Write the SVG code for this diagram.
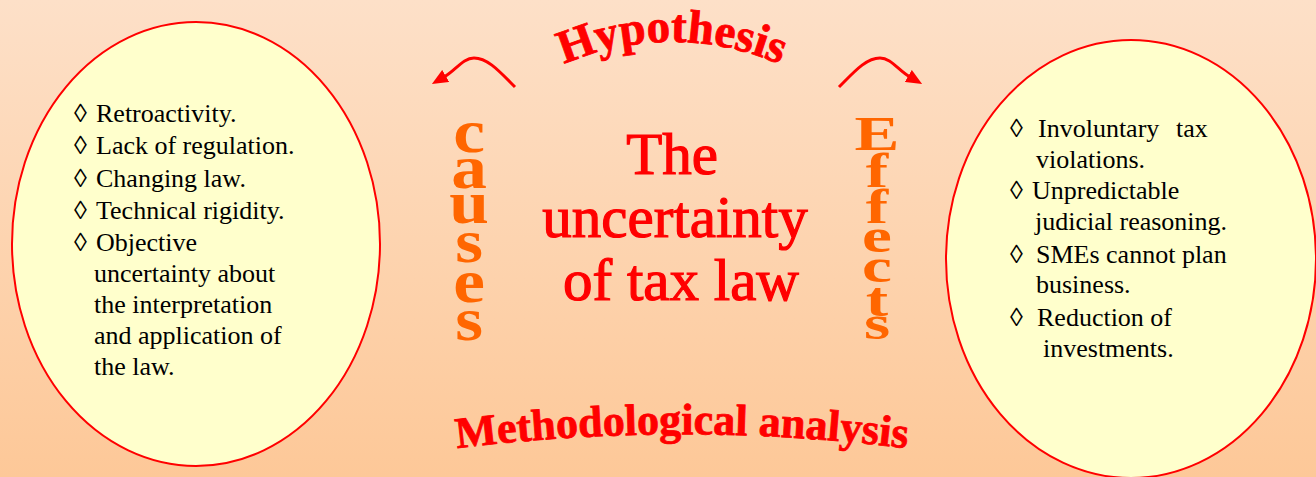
<svg xmlns="http://www.w3.org/2000/svg" width="1316" height="477" viewBox="0 0 1316 477">
<defs>
<linearGradient id="bg" x1="0" y1="0" x2="0" y2="1">
<stop offset="0" stop-color="#FDE0C8"/>
<stop offset="1" stop-color="#FDC898"/>
</linearGradient>
<marker id="ah" markerUnits="userSpaceOnUse" viewBox="0 0 16 14" markerWidth="16" markerHeight="14" refX="2" refY="7" orient="auto">
<path d="M0,0 L16,7 L0,14 z" fill="#FF0000"/>
</marker>
<path id="arcTop" d="M548,72 A270,270 0 0 1 796,72"/>
<path id="arcBot" d="M452,449 A1800,1800 0 0 1 912,449"/>
<style>
.ell{fill:#FFFFCC;stroke:#FF0000;stroke-width:2}
.item{font-family:"Liberation Serif","Times New Roman",serif;font-size:26px;fill:#000}
.title{font-family:"Liberation Serif","Times New Roman",serif;font-size:59px;fill:#FF0000;stroke:#FF0000;stroke-width:1.2px;text-anchor:middle}
.arc{font-family:"Liberation Serif","Times New Roman",serif;font-weight:bold;fill:#FF0000;stroke:#FF0000;stroke-width:0.8px;text-anchor:middle}
.vert{font-family:"Liberation Serif","Times New Roman",serif;font-weight:bold;fill:#FF6600;text-anchor:middle}
.conn{fill:none;stroke:#FF0000;stroke-width:3}
</style>
</defs>
<rect x="0" y="0" width="1316" height="477" fill="url(#bg)"/>

<g id="causes-node">
<ellipse class="ell" cx="196" cy="244" rx="184" ry="222"/>
<text class="item">
<tspan x="74" y="122">◊</tspan><tspan x="96" y="122">Retroactivity.</tspan>
<tspan x="74" y="154">◊</tspan><tspan x="96" y="154">Lack of regulation.</tspan>
<tspan x="74" y="187">◊</tspan><tspan x="96" y="187">Changing law.</tspan>
<tspan x="74" y="219">◊</tspan><tspan x="96" y="219">Technical rigidity.</tspan>
<tspan x="74" y="251">◊</tspan><tspan x="96" y="251">Objective</tspan>
<tspan x="94" y="282">uncertainty about</tspan>
<tspan x="94" y="313">the interpretation</tspan>
<tspan x="94" y="344">and application of</tspan>
<tspan x="94" y="375">the law.</tspan>
</text>
</g>

<g id="effects-node">
<ellipse class="ell" cx="1131" cy="259" rx="185" ry="219"/>
<text class="item">
<tspan x="1010" y="137">◊</tspan><tspan x="1038" y="137">Involuntary</tspan><tspan x="1176" y="137">tax</tspan>
<tspan x="1036" y="168">violations.</tspan>
<tspan x="1010" y="199">◊</tspan><tspan x="1032" y="199">Unpredictable</tspan>
<tspan x="1035" y="230">judicial reasoning.</tspan>
<tspan x="1010" y="263">◊</tspan><tspan x="1036" y="263">SMEs cannot plan</tspan>
<tspan x="1036" y="293">business.</tspan>
<tspan x="1010" y="326">◊</tspan><tspan x="1037" y="326">Reduction of</tspan>
<tspan x="1043" y="357">investments.</tspan>
</text>
</g>

<g id="title-node">
<text class="title"><tspan x="672" y="174">The</tspan><tspan x="675" y="237">uncertainty</tspan><tspan x="681" y="300">of tax law</tspan></text>
</g>

<g id="causes-label" transform="translate(469,0) scale(1.15,1)">
<text class="vert" font-size="62"><tspan x="0" y="152">c</tspan><tspan x="0" y="188">a</tspan><tspan x="0" y="223">u</tspan><tspan x="0" y="262">s</tspan><tspan x="0" y="302">e</tspan><tspan x="0" y="340">s</tspan></text>
</g>

<g id="effects-label" transform="translate(877,0) scale(1.4,1)">
<text class="vert" font-size="48"><tspan x="0" y="150">E</tspan><tspan x="0" y="187">f</tspan><tspan x="0" y="223">f</tspan><tspan x="0" y="252">e</tspan><tspan x="0" y="282">c</tspan><tspan x="0" y="316">t</tspan><tspan x="0" y="339">s</tspan></text>
</g>

<g id="hypothesis-label">
<text class="arc" font-size="47"><textPath href="#arcTop" startOffset="50%">Hypothesis</textPath></text>
</g>

<g id="method-label">
<text class="arc" font-size="44"><textPath href="#arcBot" startOffset="50%">Methodological analysis</textPath></text>
</g>

<g id="connectors">
<path class="conn" d="M515,87 C500,72 488,58 474,58 C463,58 456,70 444,77" marker-end="url(#ah)"/>
<path class="conn" d="M839,87 C854,72 866,58 880,58 C891,58 898,70 910,77" marker-end="url(#ah)"/>
</g>
</svg>
